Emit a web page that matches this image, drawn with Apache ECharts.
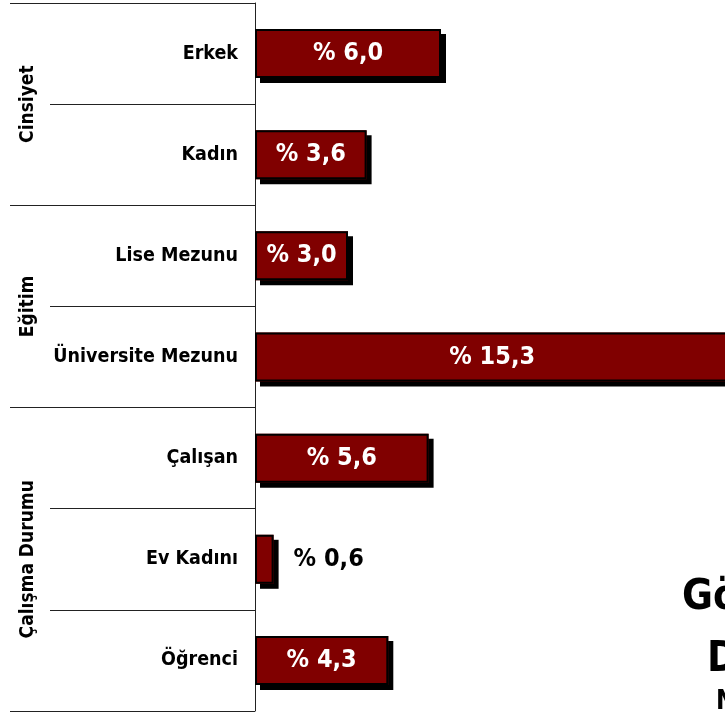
<!DOCTYPE html>
<html>
<head>
<meta charset="utf-8">
<script src="https://cdn.jsdelivr.net/npm/echarts@6/dist/echarts.min.js"></script>
<style>
  html, body { margin: 0; padding: 0; background: #fff; }
  #chart { width: 725px; height: 717px; }
</style>
</head>
<body>
<div id="chart"></div>
<script>
var categories = ['Erkek', 'Kadın', 'Lise Mezunu', 'Üniversite Mezunu', 'Çalışan', 'Ev Kadını', 'Öğrenci']
var values = [6.0, 3.6, 3.0, 15.3, 5.6, 0.6, 4.3]
var groups = ['Cinsiyet', 'Eğitim', 'Çalışma Durumu']
var groupSizes = [2, 2, 3]
var groupStarts = [0, 2, 4]
var sideLines = ['Gö', 'D', 'N']

var font = '"DejaVu Sans Condensed", "DejaVu Sans", sans-serif'

var myChart = echarts.init(document.getElementById('chart'))

var barData = []
for (var i = 0; i < values.length; i++) {
    if (values[i] < 1) {
        // too narrow for the label, put it outside in black
        barData.push({ value: values[i], label: { position: 'right', color: '#000', distance: 20 } })
    } else {
        barData.push(values[i])
    }
}

var option = {
    animation: false,
    grid: {
        top: 3,
        left: 255,
        width: 496,
        height: 708,
        outerBoundsMode: 'none'
    },
    xAxis: {
        type: 'value',
        min: 0,
        max: 16,
        show: false
    },
    yAxis: [
        {
            type: 'category',
            data: categories,
            inverse: true,
            axisLine: { show: true, lineStyle: { color: '#222', width: 1 } },
            axisTick: { show: true, length: 205, lineStyle: { color: '#222', width: 1 } },
            axisLabel: {
                margin: 17,
                color: '#000',
                fontFamily: font,
                fontWeight: 'bold',
                fontSize: 19.5
            }
        },
        {
            // longer ticks at the group boundaries
            type: 'category',
            data: categories,
            inverse: true,
            position: 'left',
            axisLine: { show: false },
            axisLabel: { show: false },
            axisTick: {
                show: true,
                length: 245,
                lineStyle: { color: '#222', width: 1 },
                interval: function (index) {
                    return groupStarts.indexOf(index) >= 0
                }
            }
        }
    ],
    series: [
        {
            type: 'bar',
            data: barData,
            barWidth: 49,
            itemStyle: {
                color: '#800000',
                shadowColor: '#000',
                shadowBlur: 0,
                shadowOffsetX: 5,
                shadowOffsetY: 5
            },
            label: {
                show: true,
                position: 'inside',
                color: '#fff',
                fontFamily: font,
                fontWeight: 'bold',
                fontSize: 25,
                formatter: function (p) {
                    return '% ' + p.value.toFixed(1).replace('.', ',')
                }
            },
            z: 2
        },
        {
            // outline on top of the bars (no shadow)
            type: 'bar',
            data: values,
            barWidth: 49,
            barGap: '-100%',
            silent: true,
            itemStyle: {
                color: 'transparent',
                borderColor: '#000',
                borderWidth: 2
            },
            z: 3
        }
    ]
}
myChart.setOption(option)

// group titles, centred on their rows
var graphics = []
var start = 0
for (var g = 0; g < groups.length; g++) {
    var y1 = myChart.convertToPixel({ yAxisIndex: 0 }, categories[start])
    var y2 = myChart.convertToPixel({ yAxisIndex: 0 }, categories[start + groupSizes[g] - 1])
    graphics.push({
        type: 'text',
        x: 28,
        y: (y1 + y2) / 2,
        rotation: Math.PI / 2,
        style: {
            text: groups[g],
            fill: '#000',
            font: 'bold 19px ' + font,
            align: 'center',
            verticalAlign: 'middle'
        }
    })
    start += groupSizes[g]
}
// text block cut off at the right edge
graphics.push({ type: 'text', x: 682, y: 598, style: { text: sideLines[0], fill: '#000', font: 'bold 42px ' + font, verticalAlign: 'middle' } })
graphics.push({ type: 'text', x: 707, y: 660, style: { text: sideLines[1], fill: '#000', font: 'bold 42px ' + font, verticalAlign: 'middle' } })
graphics.push({ type: 'text', x: 716, y: 702, style: { text: sideLines[2], fill: '#000', font: 'bold 26px ' + font, verticalAlign: 'middle' } })
myChart.setOption({ graphic: graphics })
</script>
</body>
</html>
